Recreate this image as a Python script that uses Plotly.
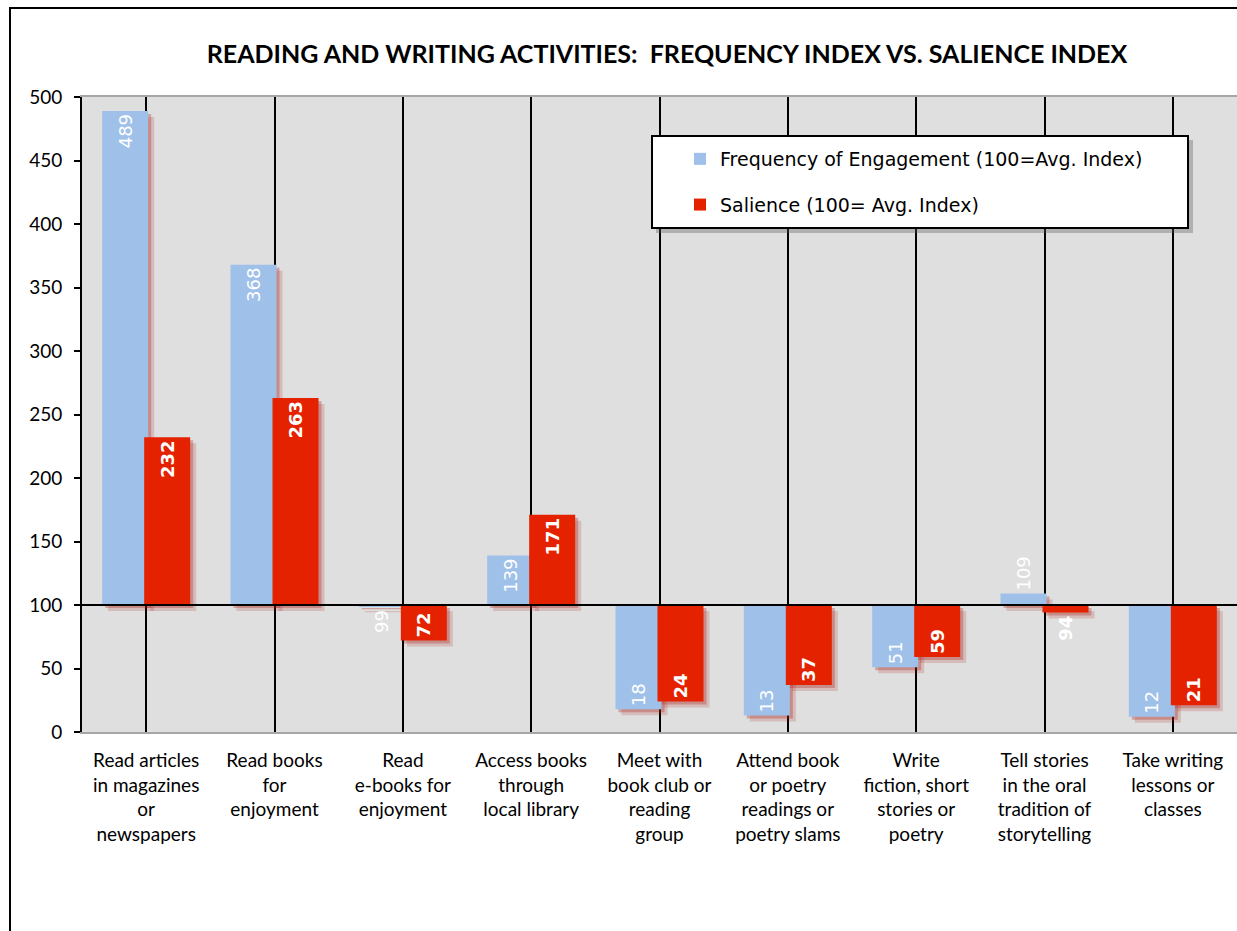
import plotly.graph_objects as go

categories = [
    "Read articles<br>in magazines<br>or<br>newspapers",
    "Read books<br>for<br>enjoyment",
    "Read<br>e-books for<br>enjoyment",
    "Access books<br>through<br>local library",
    "Meet with<br>book club or<br>reading<br>group",
    "Attend book<br>or poetry<br>readings or<br>poetry slams",
    "Write<br>fiction, short<br>stories or<br>poetry",
    "Tell stories<br>in the oral<br>tradition of<br>storytelling",
    "Take writing<br>lessons or<br>classes",
]
frequency = [489, 368, 99, 139, 18, 13, 51, 109, 12]
salience = [232, 263, 72, 171, 24, 37, 59, 94, 21]
baseline = 100
y_ticks = [0, 50, 100, 150, 200, 250, 300, 350, 400, 450, 500]

FONT = "Lato"
FONT2 = "DejaVu Sans"
BLUE = "#9fc1e9"
RED = "#e42200"

W, H = 1237, 931
ML, MR, MT, MB = 82, 0, 97, 199
PW = W - ML - MR
PH = H - MT - MB

def px_x(p):
    return (p - ML) / PW

def px_y(p):
    return (H - MB - p) / PH

cat_w = PW / len(categories)
bar_w = 46 / cat_w
off_f = -44 / cat_w
off_s = -2 / cat_w

x = list(range(len(categories)))
rel_f = [v - baseline for v in frequency]
rel_s = [v - baseline for v in salience]

def tpos(vals):
    return ["outside" if abs(v - baseline) < 15 else "inside" for v in vals]

fig = go.Figure()
# soft drop shadows (two layers to imitate blur)
for dpx, alpha in [(6, 0.18), (3, 0.30)]:
    for rel, off in [(rel_f, off_f), (rel_s, off_s)]:
        fig.add_trace(go.Bar(
            x=x, y=rel, base=baseline - dpx * 500 / PH, width=bar_w,
            offset=off + dpx / cat_w,
            marker=dict(color=f"rgba(170,30,20,{alpha})", line=dict(width=0)),
            showlegend=False, hoverinfo="skip",
        ))

fig.add_trace(go.Bar(
    name="Frequency of Engagement (100=Avg. Index)",
    x=x, y=rel_f, base=baseline, width=bar_w, offset=off_f,
    marker=dict(color=BLUE, line=dict(width=0)),
    text=[str(v) for v in frequency], textposition=tpos(frequency),
    textangle=-90, insidetextanchor="end", constraintext="none",
    textfont=dict(family=FONT2, size=18, color="white"),
    insidetextfont=dict(family=FONT2, size=18, color="white"),
    outsidetextfont=dict(family=FONT2, size=18, color="white"),
    legendgroup="f",
))
fig.add_trace(go.Bar(
    name="Salience (100= Avg. Index)",
    x=x, y=rel_s, base=baseline, width=bar_w, offset=off_s,
    marker=dict(color=RED, line=dict(width=0)),
    text=[str(v) for v in salience], textposition=tpos(salience),
    textangle=-90, insidetextanchor="end", constraintext="none",
    textfont=dict(family=FONT2, size=18, color="white", weight="bold"),
    insidetextfont=dict(family=FONT2, size=18, color="white", weight="bold"),
    outsidetextfont=dict(family=FONT2, size=18, color="white"),
    legendgroup="s",
))

shapes = [
    # outer frame
    dict(type="rect", xref="paper", yref="paper",
         x0=px_x(10), x1=px_x(1260), y0=px_y(960), y1=px_y(8),
         line=dict(color="black", width=2), fillcolor="rgba(0,0,0,0)", layer="below"),
    # baseline at 100
    dict(type="line", xref="paper", yref="y", x0=0, x1=1, y0=baseline, y1=baseline,
         line=dict(color="black", width=2), layer="above"),
    # legend shadow
    dict(type="rect", xref="paper", yref="paper",
         x0=px_x(656), x1=px_x(1193), y0=px_y(233), y1=px_y(140),
         line=dict(width=0), fillcolor="rgba(90,90,90,0.35)", layer="above"),
    # legend box
    dict(type="rect", xref="paper", yref="paper",
         x0=px_x(652), x1=px_x(1188), y0=px_y(228), y1=px_y(136),
         line=dict(color="black", width=2), fillcolor="white", layer="above"),
]

fig.update_layout(
    width=W, height=H,
    margin=dict(l=ML, r=MR, t=MT, b=MB),
    paper_bgcolor="white", plot_bgcolor="#dfdfdf",
    barmode="overlay",
    font=dict(family=FONT, size=19, color="black"),
    title=dict(text="READING AND WRITING ACTIVITIES:  FREQUENCY INDEX VS. SALIENCE INDEX",
               x=px_x(667), xref="paper", xanchor="center",
               y=1 - 54 / H, yref="container", yanchor="middle",
               font=dict(family=FONT, size=25, color="black", weight="bold")),
    showlegend=True,
    legend=dict(x=px_x(680), y=px_y(140), xanchor="left", yanchor="top",
                bgcolor="rgba(0,0,0,0)", borderwidth=0,
                traceorder="grouped", tracegroupgap=18,
                font=dict(family=FONT2, size=19, color="black")),
    shapes=shapes,
    xaxis=dict(
        tickmode="array", tickvals=x, ticktext=categories,
        range=[-0.5, len(categories) - 0.5],
        tickson="boundaries", ticks="", showgrid=True,
        gridcolor="black", gridwidth=2,
        showline=True, linecolor="#a6a6a6", linewidth=2, mirror=True,
        tickfont=dict(family=FONT, size=19, color="black"),
        ticklabelstandoff=10, zeroline=False, fixedrange=True,
    ),
    yaxis=dict(
        range=[0, 500], tickmode="array", tickvals=y_ticks,
        ticktext=[str(t) for t in y_ticks],
        showgrid=False, zeroline=False,
        showline=True, linecolor="black", linewidth=2,
        ticks="outside", ticklen=6, tickwidth=2, tickcolor="black",
        ticklabelstandoff=8,
        tickfont=dict(family=FONT, size=19, color="black"),
    ),
)

fig.write_html("out.html", config={"displayModeBar": False},
               post_script="document.body.style.margin='0';document.body.style.overflow='hidden';")
